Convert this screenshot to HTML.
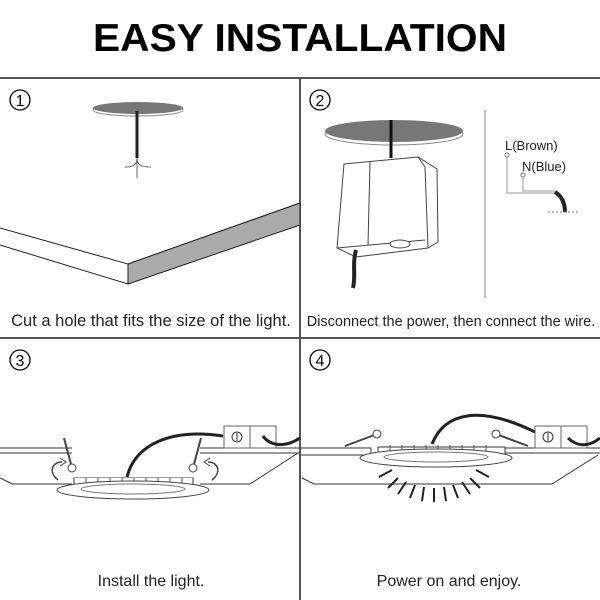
<!DOCTYPE html>
<html><head><style>
html,body{margin:0;padding:0;background:#fff}
svg{display:block}
text{font-family:"Liberation Sans",Arial,sans-serif}
</style></head><body>
<svg width="600" height="600" viewBox="0 0 600 600" xmlns="http://www.w3.org/2000/svg">
<rect width="600" height="600" fill="#fff"/>
<text x="300" y="51" font-size="39" font-weight="bold" text-anchor="middle" textLength="414" lengthAdjust="spacingAndGlyphs" fill="#000">EASY INSTALLATION</text>
<!-- grid -->
<g stroke="#555" stroke-width="2" fill="none">
<line x1="0" y1="78" x2="600" y2="78"/>
<line x1="0" y1="338" x2="600" y2="338"/>
<line x1="300" y1="78" x2="300" y2="600"/>
</g>
<!-- number circles -->
<g fill="none" stroke="#000" stroke-width="1.3">
<circle cx="20" cy="100" r="10"/><circle cx="320" cy="100" r="10"/>
<circle cx="20" cy="360" r="10"/><circle cx="320" cy="360" r="10"/>
</g>
<g font-size="16" text-anchor="middle" fill="#000">
<text x="20" y="106">1</text><text x="320" y="106">2</text>
<text x="20" y="366">3</text><text x="320" y="366">4</text>
</g>
<!-- panel 1 -->
<ellipse cx="138" cy="110" rx="45" ry="6" fill="#fff" stroke="#888"/>
<ellipse cx="138" cy="108" rx="45" ry="6" fill="#777"/>
<line x1="137" y1="111" x2="137" y2="158" stroke="#222" stroke-width="3"/>
<path d="M137 158 C137 165 133 167 125 167 M137 158 C137 165 141 167 151 167 M137 158 L137 178" stroke="#666" fill="none"/>
<path d="M0 228 L128 264 L300 203" stroke="#222" fill="none"/>
<path d="M128 264 L300 203 L300 225 L128 284 Z" fill="#aaa" stroke="#222"/>
<path d="M0 245 L128 284 L128 264" stroke="#222" fill="none"/>
<text x="151" y="326" font-size="16.5" text-anchor="middle" fill="#222">Cut a hole that fits the size of the light.</text>
<!-- panel 2 -->
<ellipse cx="394" cy="134" rx="69" ry="11" fill="#fff" stroke="#888"/>
<ellipse cx="394" cy="131" rx="69" ry="11" fill="#777"/>
<line x1="391" y1="120" x2="391" y2="158" stroke="#111" stroke-width="3"/>
<path d="M344 164 L418 157 L437 169 L438 242 L428 248 L356 257 L337 248 L344 164 Z" fill="#fff" stroke="#444"/>
<path d="M370 162 L368 245 M418 157 L425 167 L428 248 M337 248 L425 240" stroke="#444" fill="none"/>
<ellipse cx="400" cy="244" rx="10" ry="4" fill="#fff" stroke="#444"/>
<path d="M356 250 C352 265 356 275 353 288" stroke="#222" stroke-width="4" fill="none"/>
<line x1="485" y1="110" x2="485" y2="298" stroke="#888"/>
<text x="505" y="150" font-size="13" fill="#222">L(Brown)</text>
<text x="522" y="171" font-size="13" fill="#222">N(Blue)</text>
<path d="M507 156 L507 193 L555 193 M523 177 L523 191 L555 191" stroke="#999" fill="none"/>
<circle cx="507" cy="155" r="2" fill="#fff" stroke="#777"/>
<circle cx="523" cy="175" r="2" fill="#fff" stroke="#777"/>
<path d="M555 192 C562 196 565 204 565 212" stroke="#222" stroke-width="4" fill="none"/>
<line x1="548" y1="212" x2="580" y2="212" stroke="#777" stroke-dasharray="2,2"/>
<text x="451" y="326" font-size="14.5" text-anchor="middle" fill="#222">Disconnect the power, then connect the wire.</text>
<!-- panel 3 -->
<g stroke="#333" fill="none">
<path d="M0 448 L72 448 M0 453 L72 453 M200 448 L300 448 M200 453 L300 453"/>
<path d="M0 478 L12 484 L72 484 M200 484 L250 484 L298 453"/>
<path d="M74 480 L74 478 L193 478 L193 480"/>
<path d="M74 478 L74 490 L193 490 L193 478" fill="#fff"/>
</g>
<g stroke="#555">
<path d="M86 478 v12 M98 478 v12 M110 478 v12 M122 478 v12 M134 478 v12 M146 478 v12 M158 478 v12 M170 478 v12 M182 478 v12"/>
</g>
<ellipse cx="133" cy="490" rx="76" ry="9" fill="#fff" stroke="#444"/>
<ellipse cx="133" cy="489" rx="52" ry="5" fill="#fff" stroke="#777"/>
<path d="M127 477 C135 445 170 428 223 436" stroke="#222" stroke-width="3" fill="none"/>
<path d="M72 468 L64 438 M193 468 L201 438" stroke="#444" stroke-width="2"/>
<circle cx="72" cy="468" r="4" fill="#fff" stroke="#444"/>
<circle cx="193" cy="468" r="4" fill="#fff" stroke="#444"/>
<path d="M58 480 C48 472 52 462 62 462 M212 480 C222 472 218 462 208 462" stroke="#444" fill="none" stroke-width="1.5"/>
<path d="M60 458 L66 462 L60 466 M210 458 L204 462 L210 466" stroke="#444" fill="none"/>
<rect x="224" y="426" width="26" height="22" fill="#fff" stroke="#666"/>
<rect x="250" y="426" width="26" height="22" fill="#fff" stroke="#666"/>
<circle cx="237" cy="437" r="5" fill="#fff" stroke="#333"/>
<line x1="237" y1="433" x2="237" y2="441" stroke="#333"/>
<path d="M263 436 C270 446 285 448 300 438" stroke="#222" stroke-width="3" fill="none"/>
<text x="151" y="586" font-size="16" text-anchor="middle" fill="#222">Install the light.</text>
<!-- panel 4 -->
<g stroke="#333" fill="none">
<path d="M300 448 L371 448 L371 455 L300 455 M505 448 L600 448 M505 453 L600 453"/>
<path d="M302 478 L314 484 L552 484 L598 455"/>
<path d="M378 447 L378 455 L505 455 L505 447 L378 447" fill="#fff"/>
</g>
<g stroke="#555">
<path d="M390 445 v10 M402 445 v10 M414 445 v10 M426 445 v10 M438 445 v10 M450 445 v10 M462 445 v10 M474 445 v10 M486 445 v10"/>
</g>
<ellipse cx="436" cy="458" rx="76" ry="9" fill="#fff" stroke="#444"/>
<ellipse cx="436" cy="457" rx="52" ry="5" fill="#fff" stroke="#777"/>
<path d="M432 444 C445 412 480 405 535 432" stroke="#222" stroke-width="3" fill="none"/>
<path d="M377 434 L345 446 M496 434 L528 446" stroke="#444" stroke-width="2"/>
<circle cx="377" cy="434" r="4" fill="#fff" stroke="#444"/>
<circle cx="496" cy="434" r="4" fill="#fff" stroke="#444"/>
<g stroke="#222" stroke-width="2">
<path d="M379 477 L392 470 M388 488 L398 478 M398 494 L406 482 M410 498 L415 485 M422 501 L424 487 M434 502 L434 488 M446 501 L444 487 M458 498 L453 485 M470 494 L462 482 M480 488 L470 478 M489 477 L476 470"/>
</g>
<rect x="535" y="426" width="26" height="22" fill="#fff" stroke="#666"/>
<rect x="561" y="426" width="26" height="22" fill="#fff" stroke="#666"/>
<circle cx="548" cy="437" r="5" fill="#fff" stroke="#333"/>
<line x1="548" y1="433" x2="548" y2="441" stroke="#333"/>
<path d="M568 438 C576 446 588 448 600 438" stroke="#222" stroke-width="3" fill="none"/>
<text x="449" y="586" font-size="16" text-anchor="middle" fill="#222">Power on and enjoy.</text>
</svg>
</body></html>
